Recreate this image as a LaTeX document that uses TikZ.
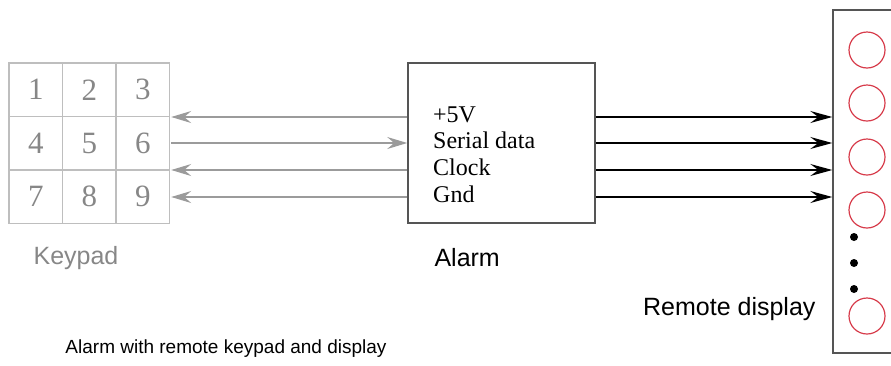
\documentclass[tikz,border=0pt]{standalone}
\usepackage{fontspec}
\setmainfont{Liberation Serif}
\setsansfont{Liberation Sans}
\usetikzlibrary{arrows.meta,positioning}
\definecolor{keygray}{RGB}{190,190,190}
\definecolor{digitgray}{RGB}{135,135,135}
\definecolor{wiregray}{RGB}{155,155,155}
\definecolor{boxgray}{RGB}{85,85,85}
\definecolor{lampred}{RGB}{215,60,75}

\tikzset{
  keycell/.style={draw=keygray,line width=1.3pt,minimum size=53.5pt,inner sep=0pt,
    text=digitgray,font=\fontsize{31}{31}\selectfont},
  sig/.style={anchor=west,inner sep=0pt,text height=15pt,text depth=4pt,
    font=\fontsize{24}{24}\selectfont},
  caption/.style={font=\sffamily\fontsize{25}{25}\selectfont},
  graywire/.style={draw=wiregray,line width=1.3pt,-{Stealth[length=20pt,width=12pt,inset=7pt]}},
  blackwire/.style={draw=black,line width=1.6pt,-{Stealth[length=22pt,width=12pt,inset=8pt]}},
  lamp/.style={draw=lampred,line width=1.2pt,circle,minimum size=36pt,inner sep=0pt},
  dotmark/.style={fill=black,circle,minimum size=8pt,inner sep=0pt}
}

\begin{document}
\begin{tikzpicture}[x=1pt,y=-1pt]
\useasboundingbox (0,0) rectangle (891,365);

% keypad
\foreach \n in {1,...,9}{
  \pgfmathtruncatemacro{\col}{mod(\n-1,3)}
  \pgfmathtruncatemacro{\row}{div(\n-1,3)}
  \node[keycell] (key\n) at (35.75+53.5*\col,89.75+53.5*\row) {\n};
}
\node[minimum width=162pt,minimum height=160.5pt,inner sep=0pt] (keypad) at (90,143.25) {};
\node[caption,text=digitgray] (keylabel) at (76,258) {Keypad};

% alarm
\node[draw=boxgray,line width=1.6pt,minimum width=187pt,minimum height=160pt,inner sep=0pt] (alarm) at (501.5,143) {};
\node[sig] (vcc) at (433,117) {+5V};
\node[sig] (data) at (433,143) {Serial data};
\node[sig] (clk) at (433,170) {Clock};
\node[sig] (gnd) at (433,197) {Gnd};
\node[caption,anchor=west] (alarmlabel) at (431,258) {Alarm};

% remote display
\node[draw=boxgray,line width=1.4pt,minimum width=80pt,minimum height=343pt,inner sep=0pt] (display) at (873,181.5) {};
\foreach \y [count=\i] in {50,103,157,210,316}
  \node[lamp] (lamp\i) at (867,\y) {};
\foreach \y [count=\i] in {237,263,289}
  \node[dotmark] (dot\i) at (854,\y) {};
\node[caption,anchor=east] (displabel) at (819,309) {Remote display};

% wires
\draw[graywire] (alarm.west |- vcc) -- (keypad.east |- vcc);
\draw[graywire] (keypad.east |- data) -- (alarm.west |- data);
\draw[graywire] (alarm.west |- clk) -- (keypad.east |- clk);
\draw[graywire] (alarm.west |- gnd) -- (keypad.east |- gnd);
\foreach \s in {vcc,data,clk,gnd}
  \draw[blackwire] (alarm.east |- \s) -- (display.west |- \s);

\node[caption,font=\sffamily\fontsize{19}{19}\selectfont] (title) at (226,349) {Alarm with remote keypad and display};
\end{tikzpicture}
\end{document}
